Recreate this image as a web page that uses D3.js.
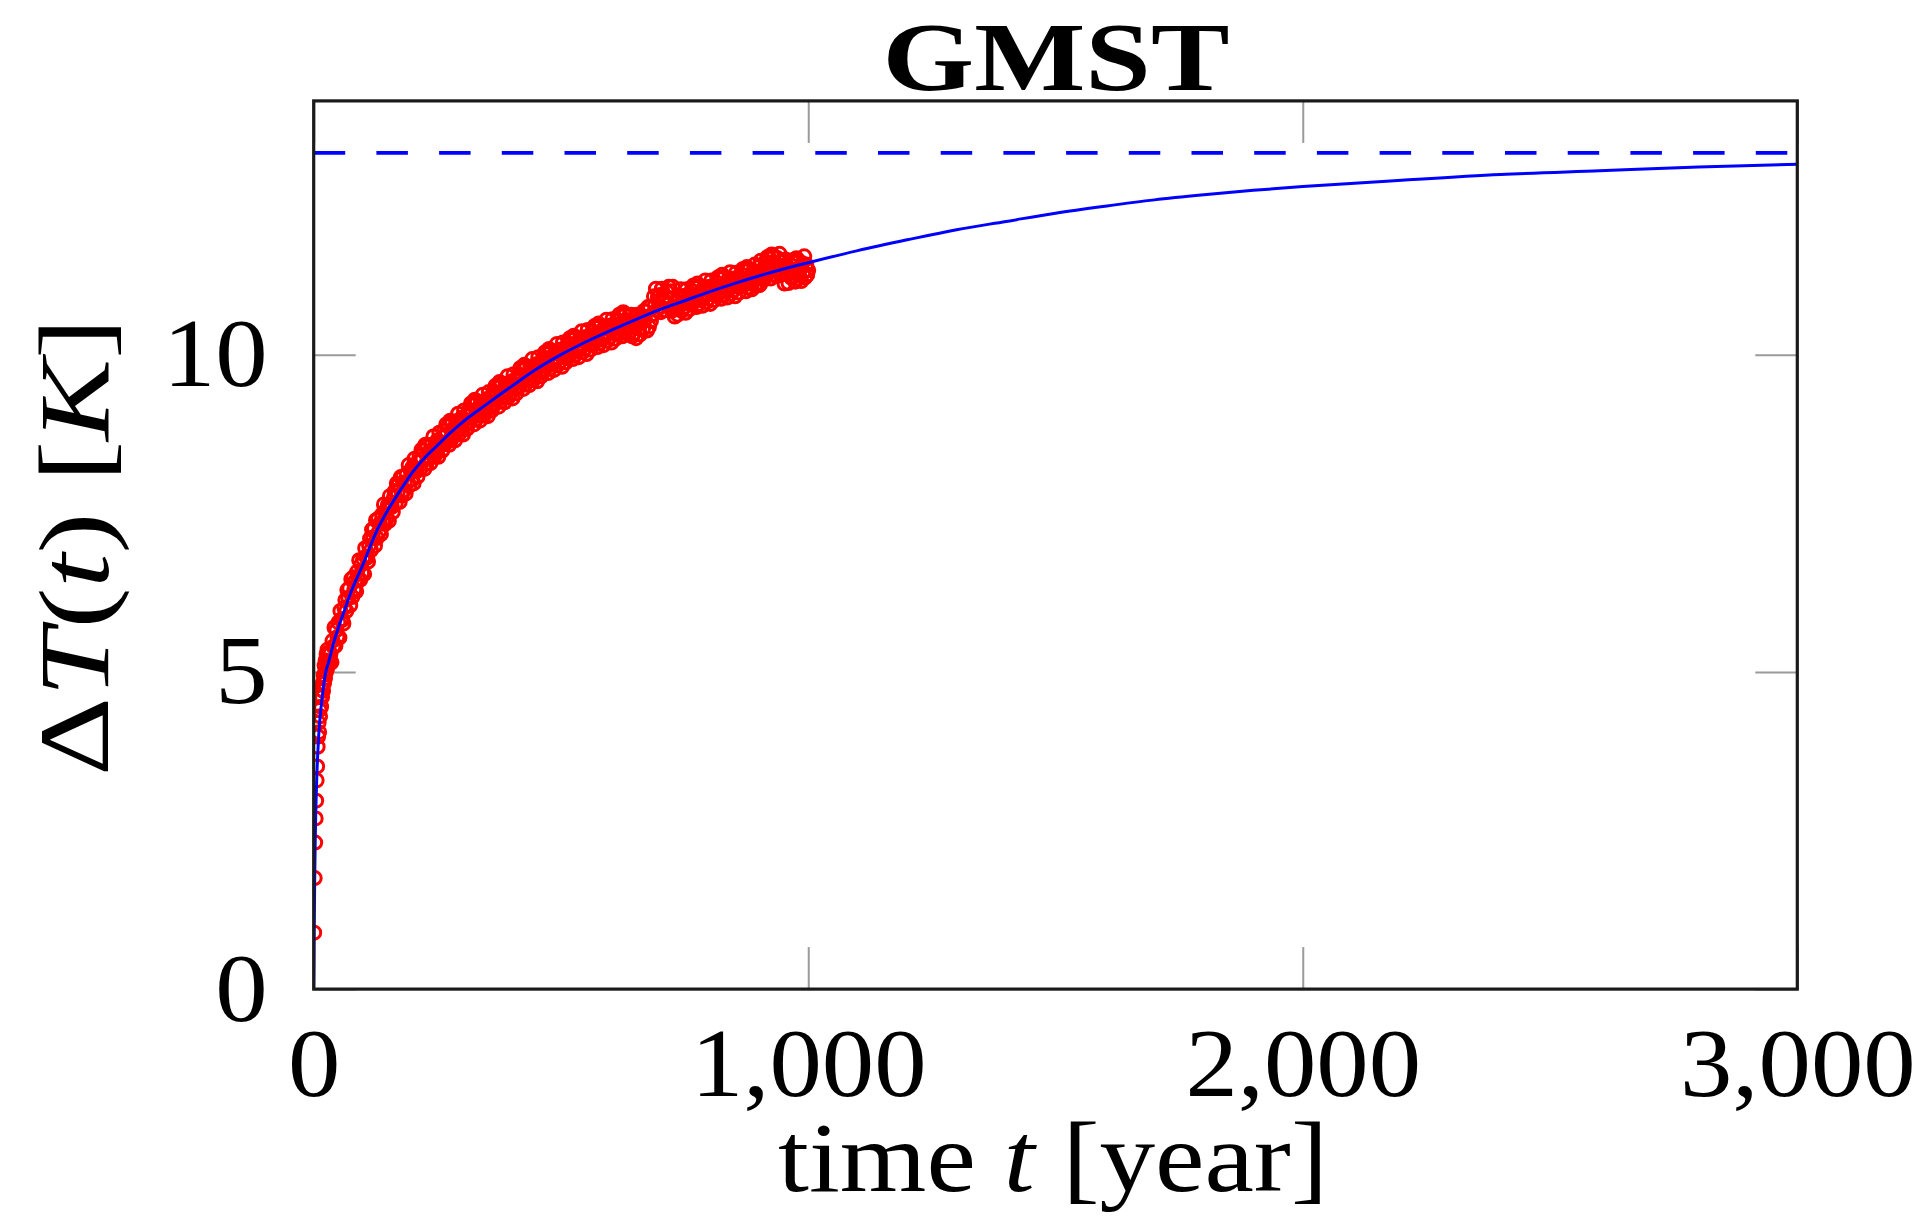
<!DOCTYPE html>
<html>
<head>
<meta charset="utf-8">
<script src="https://cdn.jsdelivr.net/npm/d3@7"></script>
<style>
  html, body { margin: 0; padding: 0; background: #fff; }
  svg { display: block; }
  text { font-family: "Liberation Serif", "Times New Roman", serif; fill: #000; }
</style>
</head>
<body>
<svg id="chart" width="1929" height="1218"></svg>
<script>
// ---------------- data ----------------
const title = "GMST";
const xTicks = [0, 1000, 2000, 3000];
const yTicks = [0, 5, 10];
const xDomain = [0, 3000];
const yDomain = [0, 14];
const equilibriumValue = 13.18;

// observed (model) GMST anomaly, red circles
const obsYears = [
  1,2,3,4,5,6,7,8,9,10,11,12,13,14,15,16,17,18,19,20,21,22,23,24,25,26,27,28,29,
  30,32,34,36,38,40,42,44,46,48,50,52,54,56,58,60,62,64,66,68,70,72,74,76,78,
  80,82,84,86,88,90,92,94,96,98,100,102,104,106,108,110,112,114,116,118,120,122,124,126,128,
  130,132,134,136,138,140,142,144,146,148,150,152,154,156,158,160,162,164,166,168,170,172,174,176,178,
  180,182,184,186,188,190,192,194,196,198,200,202,204,206,208,210,212,214,216,218,220,222,224,226,228,
  230,232,234,236,238,240,242,244,246,248,250,252,254,256,258,260,262,264,266,268,270,272,274,276,278,
  280,282,284,286,288,290,292,294,296,298,300,302,304,306,308,310,312,314,316,318,320,322,324,326,328,
  330,332,334,336,338,340,342,344,346,348,350,352,354,356,358,360,362,364,366,368,370,372,374,376,378,
  380,382,384,386,388,390,392,394,396,398,400,402,404,406,408,410,412,414,416,418,420,422,424,426,428,
  430,432,434,436,438,440,442,444,446,448,450,452,454,456,458,460,462,464,466,468,470,472,474,476,478,
  480,482,484,486,488,490,492,494,496,498,500,502,504,506,508,510,512,514,516,518,520,522,524,526,528,
  530,532,534,536,538,540,542,544,546,548,550,552,554,556,558,560,562,564,566,568,570,572,574,576,578,
  580,582,584,586,588,590,592,594,596,598,600,602,604,606,608,610,612,614,616,618,620,622,624,626,628,
  630,632,634,636,638,640,642,644,646,648,650,652,654,656,658,660,662,664,666,668,670,672,674,676,678,
  680,682,684,686,688,690,692,694,696,698,700,702,704,706,708,710,712,714,716,718,720,722,724,726,728,
  730,732,734,736,738,740,742,744,746,748,750,752,754,756,758,760,762,764,766,768,770,772,774,776,778,
  780,782,784,786,788,790,792,794,796,798,800,802,804,806,808,810,812,814,816,818,820,822,824,826,828,
  830,832,834,836,838,840,842,844,846,848,850,852,854,856,858,860,862,864,866,868,870,872,874,876,878,
  880,882,884,886,888,890,892,894,896,898,900,902,904,906,908,910,912,914,916,918,920,922,924,926,928,
  930,932,934,936,938,940,942,944,946,948,950,952,954,956,958,960,962,964,966,968,970,972,974,976,978,
  980,982,984,986,988,990,992,994,996,998,1000
];
const obsValues = [
  0.89,1.75,2.31,2.69,2.97,3.29,3.51,3.82,3.98,4.2,4.05,4.4,4.3,4.6,4.45,4.72,4.6,4.82,4.7,4.95,4.82,5.1,4.9,5.18,5.0,5.28,5.05,5.35,5.12,
  5.30,5.13,5.29,5.15,5.49,5.40,5.70,5.41,5.66,5.55,5.78,5.54,5.96,5.83,5.82,5.76,6.01,6.13,5.96,6.29,6.17,6.32,6.05,6.46,6.18,
  6.49,6.30,6.43,6.27,6.58,6.47,6.76,6.45,6.69,6.56,6.78,6.54,6.95,6.82,6.80,6.74,6.99,7.10,6.92,7.24,7.12,7.26,6.99,7.39,7.11,
  7.41,7.21,7.34,7.17,7.48,7.36,7.64,7.33,7.55,7.42,7.63,7.38,7.77,7.63,7.60,7.52,7.75,7.85,7.66,7.97,7.83,7.96,7.68,8.07,7.78,
  8.07,7.86,7.99,7.81,8.12,7.99,8.26,7.94,8.17,8.03,8.23,7.97,8.36,8.20,8.16,8.08,8.31,8.40,8.20,8.50,8.36,8.49,8.20,8.58,8.28,
  8.57,8.36,8.47,8.29,8.58,8.45,8.71,8.39,8.60,8.46,8.65,8.39,8.77,8.62,8.57,8.49,8.71,8.80,8.60,8.90,8.75,8.87,8.58,8.96,8.66,
  8.94,8.72,8.84,8.65,8.95,8.81,9.07,8.75,8.96,8.82,9.01,8.74,9.12,8.97,8.92,8.83,9.05,9.13,8.94,9.23,9.08,9.20,8.90,9.29,8.98,
  9.26,9.04,9.15,8.96,9.25,9.11,9.37,9.04,9.26,9.11,9.30,9.03,9.41,9.26,9.21,9.12,9.34,9.42,9.22,9.51,9.36,9.48,9.18,9.57,9.26,
  9.54,9.32,9.43,9.25,9.54,9.40,9.66,9.33,9.54,9.39,9.58,9.31,9.69,9.53,9.48,9.39,9.61,9.69,9.50,9.79,9.64,9.76,9.46,9.84,9.53,
  9.81,9.59,9.70,9.52,9.81,9.67,9.93,9.60,9.81,9.66,9.85,9.58,9.96,9.80,9.75,9.66,9.88,9.96,9.75,10.04,9.89,10.01,9.71,10.09,9.78,
  10.06,9.84,9.95,9.76,10.05,9.91,10.17,9.84,10.04,9.89,10.08,9.81,10.19,10.02,9.97,9.88,10.10,10.18,9.97,10.26,10.11,10.23,9.93,10.30,9.99,
  10.27,10.05,10.16,9.96,10.25,10.11,10.37,10.04,10.24,10.09,10.28,10.01,10.39,10.22,10.17,10.08,10.30,10.37,10.17,10.45,10.30,10.42,10.12,10.49,10.18,
  10.46,10.24,10.34,10.15,10.43,10.29,10.55,10.22,10.42,10.27,10.46,10.19,10.56,10.40,10.34,10.25,10.47,10.55,10.34,10.63,10.48,10.60,10.29,10.67,10.35,
  10.63,10.41,10.52,10.32,10.61,10.37,10.63,10.29,10.50,10.34,10.53,10.26,10.63,10.47,10.41,10.32,10.54,10.61,10.41,10.69,10.56,10.68,10.38,10.75,10.44,
  10.75,10.53,10.63,10.64,10.92,10.78,11.04,10.70,10.91,10.75,10.94,10.67,11.04,10.88,10.82,10.70,10.92,10.99,10.79,11.07,10.88,11.00,10.69,11.07,10.75,
  10.60,10.73,10.83,10.63,10.92,10.77,11.03,10.69,10.90,10.74,10.93,10.66,11.03,10.87,10.81,10.72,10.94,11.01,10.81,11.09,10.94,11.05,10.75,11.12,10.80,
  11.08,10.86,10.96,10.77,11.05,10.91,11.17,10.83,11.04,10.88,11.07,10.80,11.17,11.01,10.95,10.86,11.07,11.14,10.94,11.22,11.07,11.19,10.88,11.26,10.94,
  11.22,10.99,11.09,10.90,11.18,11.04,11.30,10.96,11.17,11.01,11.20,10.92,11.29,11.13,11.07,10.98,11.20,11.27,11.07,11.35,11.20,11.31,11.00,11.38,11.06,
  11.34,11.12,11.22,11.03,11.31,11.17,11.42,11.08,11.29,11.13,11.38,11.10,11.48,11.31,11.25,11.18,11.39,11.47,11.26,11.54,11.39,11.51,11.20,11.58,11.26,
  11.56,11.33,11.44,11.24,11.52,11.34,11.59,11.26,11.46,11.30,11.40,11.12,11.50,11.33,11.27,11.13,11.34,11.42,11.21,11.49,11.34,11.45,11.15,11.52,11.20,
  11.48,11.25,11.36,11.16,11.44,11.30,11.55,11.22,11.42,11.26,11.33
];

// fitted response curve, blue line
const fitYears = [0,1,2,3,4,5,6,7,8,10,12,15,20,25,30,40,50,60,75,100,125,150,175,200,225,250,275,300,350,400,450,500,550,600,650,700,750,800,850,900,950,1000,1100,1200,1300,1400,1500,1600,1700,1800,1900,2000,2200,2400,2600,2800,3000];
const fitValues = [0,0.9,1.72,2.3,2.72,3.02,3.28,3.5,3.68,3.98,4.2,4.45,4.78,5.02,5.15,5.45,5.7,5.92,6.25,6.7,7.18,7.55,7.86,8.15,8.38,8.57,8.76,8.93,9.22,9.5,9.77,10.0,10.2,10.38,10.55,10.71,10.85,10.99,11.12,11.24,11.35,11.45,11.64,11.81,11.97,12.1,12.23,12.34,12.44,12.52,12.59,12.65,12.75,12.84,12.9,12.96,13.0];

// ---------------- layout ----------------
const plot = { left: 313.7, right: 1797.3, top: 100.9, bottom: 989.1 };
const tickLen = 42;
const labelStretch = 1.08;

const svg = d3.select("#chart");
const x = d3.scaleLinear().domain(xDomain).range([plot.left, plot.right]);
const y = d3.scaleLinear().domain(yDomain).range([plot.bottom, plot.top]);

const clipId = "plotclip";
svg.append("clipPath").attr("id", clipId).append("rect")
  .attr("x", plot.left).attr("y", plot.top)
  .attr("width", plot.right - plot.left).attr("height", plot.bottom - plot.top);

function styleTicks(g) {
  g.select(".domain").remove();
  g.selectAll(".tick line").attr("stroke", "#9a9a9a").attr("stroke-width", 2);
}
svg.append("g").attr("transform", `translate(0,${plot.bottom})`)
  .call(d3.axisBottom(x).tickValues(xTicks).tickSize(-tickLen).tickPadding(38)
        .tickFormat(d3.format(",")))
  .call(styleTicks)
  .call(g => g.selectAll("text")
    .attr("font-size", 97).attr("font-family", "Liberation Serif").attr("fill", "#000")
    .attr("transform", `scale(${labelStretch},1)`));
svg.append("g").attr("transform", `translate(0,${plot.top})`)
  .call(d3.axisTop(x).tickValues(xTicks).tickSize(-tickLen).tickFormat(""))
  .call(styleTicks);
svg.append("g").attr("transform", `translate(${plot.left},0)`)
  .call(d3.axisLeft(y).tickValues(yTicks).tickSize(-tickLen).tickPadding(46))
  .call(styleTicks)
  .call(g => g.selectAll("text")
    .attr("font-size", 97).attr("font-family", "Liberation Serif").attr("fill", "#000")
    .attr("x", 0).attr("transform", `translate(-46,0) scale(${labelStretch},1)`));
svg.append("g").attr("transform", `translate(${plot.right},0)`)
  .call(d3.axisRight(y).tickValues(yTicks).tickSize(-tickLen).tickFormat(""))
  .call(styleTicks);

const plotG = svg.append("g").attr("clip-path", `url(#${clipId})`);

// observed points
const n = Math.min(obsYears.length, obsValues.length);
const obs = obsYears.slice(0, n).map((t, i) => ({ t, v: obsValues[i] }));
plotG.append("g").selectAll("circle").data(obs).join("circle")
  .attr("cx", d => x(d.t)).attr("cy", d => y(d.v)).attr("r", 6.5)
  .attr("fill", "none").attr("stroke", "#ff0000").attr("stroke-width", 3);

// equilibrium dashed line
plotG.append("line")
  .attr("x1", x(xDomain[0])).attr("x2", x(xDomain[1]))
  .attr("y1", y(equilibriumValue)).attr("y2", y(equilibriumValue))
  .attr("stroke", "#0000ff").attr("stroke-width", 3.6)
  .attr("stroke-dasharray", "31.5 31.2");

// fit curve
const fit = fitYears.map((t, i) => ({ t, v: fitValues[i] }));
plotG.append("path").datum(fit)
  .attr("fill", "none").attr("stroke", "#0000ff").attr("stroke-width", 3)
  .attr("d", d3.line().x(d => x(d.t)).y(d => y(d.v)).curve(d3.curveMonotoneX));

// frame
svg.append("rect")
  .attr("x", plot.left).attr("y", plot.top)
  .attr("width", plot.right - plot.left).attr("height", plot.bottom - plot.top)
  .attr("fill", "none").attr("stroke", "#1a1a1a").attr("stroke-width", 3.2);

function fitWidth(sel, target, cx, cy, rot) {
  const w = sel.node().getBBox().width;
  const s = target / w;
  sel.attr("transform", `translate(${cx},${cy}) rotate(${rot}) scale(${s},1)`);
}

// title
const t1 = svg.append("text").attr("text-anchor", "middle")
  .attr("font-size", 98).attr("font-weight", "bold").text(title);
fitWidth(t1, 347, 1056, 90, 0);

// x label
const xl = svg.append("text").attr("text-anchor", "middle").attr("font-size", 100);
xl.append("tspan").text("time ");
xl.append("tspan").attr("font-style", "italic").text("t");
xl.append("tspan").text(" [year]");
fitWidth(xl, 550, 1053, 1191, 0);

// y label
const yl = svg.append("text").attr("text-anchor", "middle").attr("font-size", 100);
yl.append("tspan").text("Δ");
yl.append("tspan").attr("font-style", "italic").text("T");
yl.append("tspan").text("(");
yl.append("tspan").attr("font-style", "italic").text("t");
yl.append("tspan").text(") [");
yl.append("tspan").attr("font-style", "italic").text("K");
yl.append("tspan").text("]");
fitWidth(yl, 458, 108, 547, -90);
</script>
</body>
</html>
